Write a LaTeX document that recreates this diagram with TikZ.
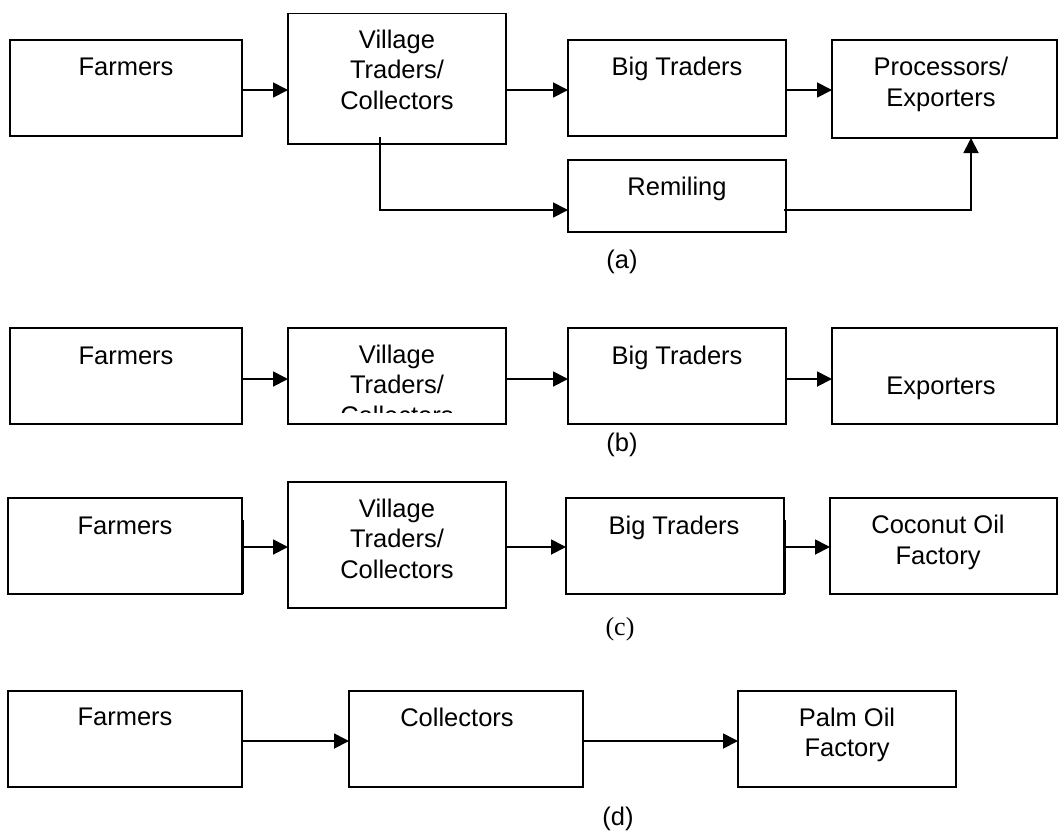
\documentclass[tikz,border=0pt]{standalone}
\usepackage{fontspec}
\setmainfont{Liberation Sans}
\newfontfamily\serifone{Liberation Serif}
\usetikzlibrary{arrows.meta}
\newcommand\mkbox[5]{\node[box, minimum width={#4-#2}, minimum height={#5-#3}] (#1) at ({(#2+#4)/2},{(#3+#5)/2}) {};}
\begin{document}
\begin{tikzpicture}[x=1pt,y=-1pt,
  box/.style={draw, line width=1.8pt, inner sep=0pt, outer sep=0pt},
  txt/.style={inner sep=0pt, outer sep=0pt, align=center, anchor=base, font=\fontsize{25.5}{30.5}\selectfont},
  lbl/.style={inner sep=0pt, anchor=base, font=\fontsize{25.5}{30.5}\selectfont},
  arr/.style={line width=1.8pt, -{Triangle[length=15pt,width=15pt]}},
  ln/.style={line width=1.5pt}]
\useasboundingbox (0,0) rectangle (1059,831);
% ---------- (a)
\mkbox{fa}{10}{40}{242}{136}
\mkbox{va}{288}{13.5}{506}{144}
\mkbox{ba}{568}{40}{786}{136}
\mkbox{pa}{832}{40}{1057}{138}
\mkbox{ra}{568}{160}{786}{232}
\node[txt] (fat) at (126,75) {Farmers};
\node[txt] (vat) at (397,109.3) {Village\\Traders/\\Collectors};
\node[txt] (bat) at (677,75) {Big Traders};
\node[txt] (pat) at (941,106) {Processors/\\Exporters};
\node[txt] (rat) at (677,195) {Remiling};
\node[lbl] (la) at (622,268) {(a)};
\draw[arr] (fa.east |- 0,90) -- (va.west |- 0,90);
\draw[arr] (va.east |- 0,90) -- (ba.west |- 0,90);
\draw[arr] (ba.east |- 0,90) -- (pa.west |- 0,90);
\coordinate (vaout) at (380,137);
\draw[arr] (vaout) |- (ra.west |- 0,210);
\coordinate (raout) at (784,210);
\draw[arr] (raout) -| (pa.south -| 971,0);
% ---------- (b)
\mkbox{fb}{10}{328}{242}{424}
\mkbox{vb}{288}{328}{506}{424}
\mkbox{bb}{568}{328}{786}{424}
\mkbox{eb}{832}{328}{1057}{424}
\node[txt] (fbt) at (126,364) {Farmers};
\begin{scope}
\clip (288,328) rectangle (506,412.7);
\node[txt] (vbt) at (397,424.3) {Village\\Traders/\\Collectors};
\end{scope}
\node[txt] (bbt) at (677,364) {Big Traders};
\node[txt] (ebt) at (941,394) {Exporters};
\node[lbl] (lb) at (622,451.5) {(b)};
\draw[arr] (fb.east |- 0,379) -- (vb.west |- 0,379);
\draw[arr] (vb.east |- 0,379) -- (bb.west |- 0,379);
\draw[arr] (bb.east |- 0,379) -- (eb.west |- 0,379);
% ---------- (c)
\mkbox{fc}{8}{498}{242}{594}
\mkbox{vc}{288}{482}{506}{608}
\mkbox{bc}{566}{498}{784}{594}
\mkbox{cc}{830}{498}{1057}{594}
\draw[ln] ([xshift=1.5pt]fc.east |- 0,520) -- ([xshift=1.5pt]fc.south east);
\draw[ln] ([xshift=1.5pt]bc.east |- 0,520) -- ([xshift=1.5pt]bc.south east);
\node[txt] (fct) at (125,534) {Farmers};
\node[txt] (vct) at (397,578) {Village\\Traders/\\Collectors};
\node[txt] (bct) at (674,534) {Big Traders};
\node[txt] (cct) at (938,564) {Coconut Oil\\Factory};
\node[lbl, font=\serifone\fontsize{26}{30}\selectfont] (lc) at (620,635) {(c)};
\draw[arr] (fc.east |- 0,547) -- (vc.west |- 0,547);
\draw[arr] (vc.east |- 0,547) -- (bc.west |- 0,547);
\draw[arr] (bc.east |- 0,547) -- (cc.west |- 0,547);
% ---------- (d)
\mkbox{fd}{8}{691}{242}{787}
\mkbox{cd}{349}{691}{583}{787}
\mkbox{pd}{738}{691}{956}{787}
\node[txt] (fdt) at (125,725.7) {Farmers};
\node[txt] (cdt) at (457,726) {Collectors};
\node[txt] (pdt) at (847,756.7) {Palm Oil\\Factory};
\node[lbl] (ld) at (618,825.6) {(d)};
\draw[arr] (fd.east |- 0,741) -- (cd.west |- 0,741);
\draw[arr] (cd.east |- 0,741) -- (pd.west |- 0,741);
\end{tikzpicture}
\end{document}
